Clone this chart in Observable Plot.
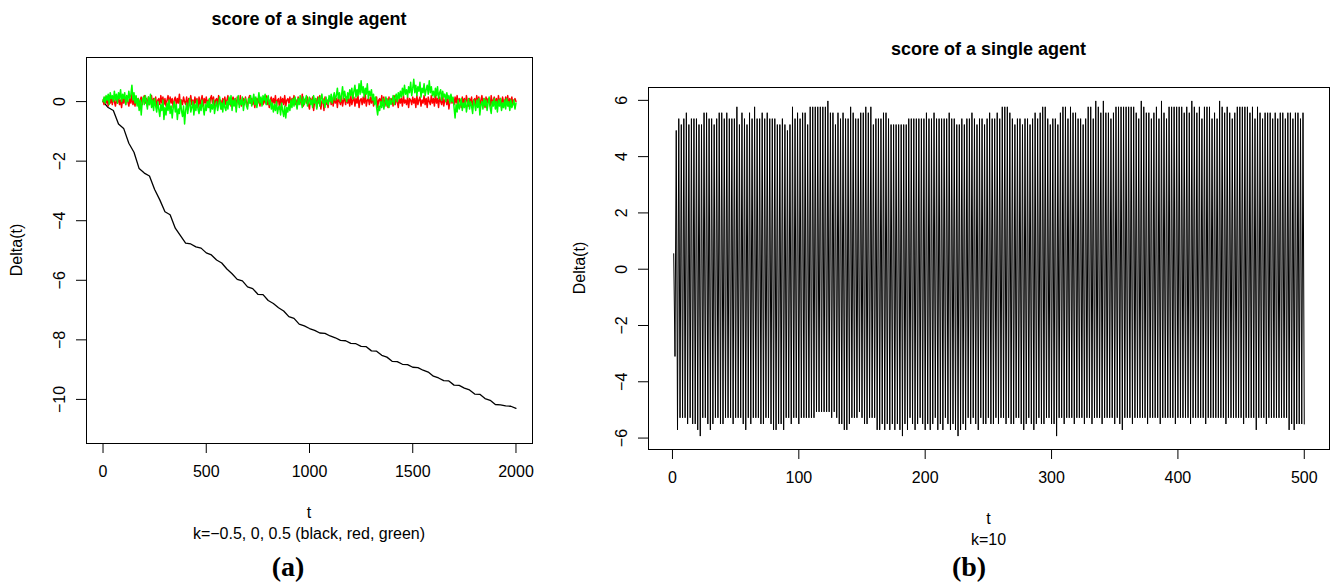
<!DOCTYPE html>
<html><head><meta charset="utf-8">
<script src="https://cdn.jsdelivr.net/npm/d3@7"></script>
<script src="https://cdn.jsdelivr.net/npm/@observablehq/plot@0.6"></script>
<style>
html,body{margin:0;padding:0;background:#fff;}
#root{position:relative;width:1334px;height:586px;overflow:hidden;background:#fff;}
.panel{position:absolute;top:0;}
#overlay{position:absolute;left:0;top:0;}
</style></head><body>
<div id="root"><div id="pa" class="panel" style="left:0px"></div><div id="pb" class="panel" style="left:560px"></div><svg id="overlay" width="1334" height="586"></svg></div>
<script>
// ---------- Panel (a): k = -0.5 (black), 0 (red), 0.5 (green) ----------
const stepBlack = 25;   // t spacing of blackK values
const stepRG = 5;       // t spacing of redK / greenK values
const blackK = [0,-0.2,-0.3,-0.75,-0.9,-1.4,-1.7,-2.25,-2.4,-2.5,
 -2.95,-3.3,-3.7,-3.8,-4.25,-4.5,-4.75,-4.78,-4.88,-4.92,
 -5.08,-5.15,-5.32,-5.42,-5.62,-5.78,-5.97,-6.02,-6.22,-6.28,
 -6.47,-6.48,-6.68,-6.78,-6.92,-7.03,-7.22,-7.28,-7.47,-7.53,
 -7.62,-7.68,-7.77,-7.78,-7.87,-7.93,-8.02,-8.03,-8.12,-8.13,
 -8.22,-8.23,-8.37,-8.38,-8.52,-8.58,-8.72,-8.73,-8.82,-8.83,
 -8.92,-8.93,-9.02,-9.08,-9.22,-9.28,-9.37,-9.38,-9.52,-9.53,
 -9.62,-9.68,-9.82,-9.83,-9.97,-10.03,-10.17,-10.18,-10.22,-10.23,
 -10.3];
const redK = [0.05,-0.1,0.15,-0.05,0.1,-0.15,0.2,-0.05,0.1,-0.1,0.15,0.0,-0.15,0.1,-0.05,0.2,-0.1,0.05,-0.2,0.1,
 -0.05,0.15,-0.1,0.2,0.0,-0.15,0.1,-0.05,0.25,-0.1,0.05,-0.15,0.15,-0.05,0.1,-0.2,0.05,0.15,-0.1,0.1,
 0.2,-0.05,0.1,-0.15,0.15,-0.1,0.05,0.2,-0.15,0.1,-0.05,0.15,-0.2,0.05,0.1,-0.1,0.2,-0.05,0.15,-0.1,
 0.1,-0.15,0.05,0.2,-0.1,0.15,-0.05,0.1,-0.2,0.05,0.15,-0.1,0.1,-0.05,0.25,-0.15,0.05,-0.1,0.15,0.0,
 -0.1,0.15,-0.2,0.1,0.0,0.2,-0.1,0.05,-0.15,0.15,-0.05,0.1,-0.2,0.15,-0.1,0.05,0.2,-0.15,0.1,-0.05,
 0.15,-0.1,0.05,-0.2,0.1,0.2,-0.05,0.15,-0.15,0.05,0.1,-0.1,0.2,-0.05,0.05,-0.25,0.1,-0.05,0.15,-0.1,
 0.05,0.2,-0.1,0.1,-0.15,0.05,0.15,-0.05,0.1,-0.2,0.15,0.0,-0.1,0.2,-0.15,0.05,0.1,-0.1,0.15,-0.05,
 -0.15,0.1,0.2,-0.05,0.1,-0.1,0.15,-0.2,0.05,0.1,-0.05,0.2,-0.15,0.1,0.0,-0.1,0.15,-0.05,0.2,-0.1,
 0.1,-0.2,0.05,0.15,-0.1,0.1,-0.05,0.2,-0.15,0.05,0.1,-0.25,0.15,-0.05,0.1,-0.1,0.2,-0.15,0.05,0.1,
 -0.05,0.15,-0.15,0.1,0.0,0.2,-0.1,0.05,-0.2,0.15,-0.05,0.1,-0.1,0.25,-0.15,0.05,0.1,-0.05,0.15,-0.1,
 -0.25,0.1,-0.05,0.15,-0.3,0.05,0.1,-0.2,0.15,-0.05,0.2,-0.25,0.0,0.1,-0.3,0.15,-0.1,0.05,-0.2,0.1,
 0.15,-0.1,0.05,-0.15,0.2,-0.05,0.1,-0.2,0.15,0.0,-0.1,0.2,-0.15,0.05,0.1,-0.1,0.15,-0.05,0.1,-0.15,
 0.2,-0.1,0.05,0.15,-0.15,0.1,-0.05,0.2,-0.2,0.05,0.1,-0.1,0.15,-0.05,0.25,-0.15,0.05,0.1,-0.1,0.15,
 -0.05,0.2,-0.15,0.1,-0.05,0.15,-0.2,0.05,0.1,-0.1,0.2,-0.05,0.15,-0.15,0.05,0.1,-0.2,0.15,-0.05,0.1,
 0.05,-0.15,0.2,-0.1,0.1,0.0,-0.2,0.15,-0.05,0.1,-0.15,0.2,-0.05,0.05,-0.1,0.15,-0.2,0.1,0.05,-0.1,
 0.15,-0.05,0.1,-0.2,0.2,-0.1,0.05,0.15,-0.15,0.05,-0.05,0.2,-0.1,0.1,-0.2,0.15,0.0,-0.1,0.2,-0.05,
 0.1,-0.15,0.25,-0.05,0.1,-0.2,0.15,0.0,-0.1,0.2,-0.15,0.05,0.1,-0.1,0.15,-0.25,0.05,0.2,-0.05,0.1,
 -0.1,0.15,-0.05,0.2,-0.15,0.1,0.05,-0.2,0.15,-0.05,0.1,-0.1,0.2,0.0,-0.15,0.1,-0.05,0.15,-0.2,0.05,
 0.1,-0.1,0.2,-0.05,0.15,-0.15,0.05,0.2,-0.1,0.1,-0.2,0.15,-0.05,0.1,0.0,-0.15,0.2,-0.1,0.05,0.15,
 -0.1,0.1,-0.15,0.2,-0.05,0.1,-0.2,0.15,0.0,-0.1,0.15,-0.05,0.2,-0.15,0.1,-0.05,0.15,-0.1,0.05,0.1,
 0.0];
const greenK = [0.0,0.15,-0.05,0.2,0.05,0.25,-0.1,0.3,0.1,0.2,0.0,0.35,0.05,0.25,-0.05,0.3,0.1,0.4,0.0,0.25,
 0.1,0.3,-0.1,0.2,0.0,0.35,0.1,0.25,0.55,0.05,0.3,-0.05,0.2,-0.15,0.1,-0.3,0.05,-0.45,0.0,0.15,
 -0.1,0.2,0.0,-0.25,0.15,-0.1,0.25,-0.2,0.05,-0.3,0.1,-0.15,-0.35,0.0,-0.25,-0.5,-0.1,-0.3,0.05,-0.6,
 -0.2,-0.45,-0.05,-0.3,0.05,-0.4,-0.15,-0.55,-0.2,0.0,-0.35,-0.1,-0.6,-0.25,-0.4,0.05,-0.3,-0.5,-0.15,-0.75,
 -0.3,-0.05,-0.4,-0.15,0.1,-0.35,-0.2,0.0,-0.45,-0.1,-0.3,0.05,-0.25,-0.4,-0.1,-0.3,0.05,-0.2,-0.45,-0.1,
 -0.3,0.0,-0.2,0.1,-0.35,-0.1,-0.25,0.05,-0.4,-0.15,0.0,-0.3,-0.1,0.15,-0.25,-0.05,-0.35,0.05,-0.2,-0.3,
 0.0,-0.25,0.15,-0.1,0.2,-0.3,0.05,-0.15,0.1,-0.35,0.0,0.2,-0.2,0.05,-0.1,0.15,-0.3,0.0,0.1,-0.15,
 -0.25,0.1,-0.05,0.2,-0.15,0.05,0.25,-0.1,0.15,-0.2,0.0,0.3,-0.05,0.15,-0.15,0.2,0.05,0.25,-0.1,0.1,
 0.2,-0.1,0.05,-0.25,-0.05,-0.35,-0.1,-0.3,0.0,-0.4,-0.2,-0.15,-0.45,-0.05,-0.3,-0.5,-0.15,-0.55,-0.2,-0.35,
 -0.1,-0.3,0.05,-0.2,0.1,-0.15,0.15,-0.05,-0.25,0.1,-0.1,0.2,0.0,-0.2,0.15,-0.1,0.05,0.2,-0.15,0.0,
 0.15,-0.1,0.05,-0.2,0.2,-0.05,0.1,-0.25,0.0,0.15,-0.15,0.1,0.25,-0.05,0.05,-0.2,0.15,0.0,-0.1,0.2,
 0.0,0.25,-0.05,0.15,0.3,0.05,0.2,0.45,0.1,0.3,0.0,0.2,0.5,0.1,0.35,0.15,0.0,0.3,0.1,0.4,
 0.2,0.45,0.1,0.35,0.55,0.15,0.4,0.2,0.6,0.25,0.7,0.3,0.5,0.15,0.45,0.25,0.6,0.1,0.35,0.2,
 0.4,0.05,0.25,-0.1,0.15,-0.2,-0.45,-0.15,-0.3,0.0,-0.2,0.1,-0.25,-0.05,0.15,-0.15,0.05,-0.2,0.1,-0.1,
 0.0,0.2,-0.1,0.15,0.25,0.0,0.3,0.1,0.35,0.15,0.45,0.2,0.55,0.25,0.4,0.15,0.5,0.3,0.65,0.2,
 0.45,0.75,0.3,0.55,0.2,0.5,0.35,0.65,0.15,0.45,0.3,0.6,0.2,0.4,0.55,0.25,0.7,0.3,0.5,0.2,
 0.35,0.15,0.45,0.2,0.5,0.1,0.3,0.4,0.05,0.35,0.15,0.25,0.0,0.3,0.1,0.2,-0.05,0.25,0.0,0.15,
 -0.2,-0.55,-0.1,-0.35,0.05,-0.25,-0.1,0.1,-0.3,-0.05,-0.2,0.05,-0.35,-0.1,0.1,-0.25,0.0,-0.15,-0.4,0.05,
 -0.1,-0.3,0.05,-0.2,0.1,-0.45,-0.1,0.0,-0.25,0.1,-0.15,0.05,-0.3,-0.05,0.15,-0.2,-0.4,0.0,-0.15,0.1,
 -0.25,0.0,-0.35,0.05,-0.15,0.1,-0.3,-0.05,-0.2,0.05,-0.25,0.1,-0.15,0.0,-0.3,0.05,-0.2,-0.1,0.05,-0.25,
 -0.05];
const xLimA = [0, 2000];
const yLimA = [-11, 1];
const xTicksA = [0, 500, 1000, 1500, 2000];
const yTicksA = [0, -2, -4, -6, -8, -10];

// ---------- Panel (b): k = 10 ----------
const startB = [0.55, -3.1];   // t = 1, 2
const peaksB = [4.93,5.35,5.14,5.35,5.56,5.14,5.35,5.35,5.35,5.14,
 5.14,5.56,5.56,5.35,5.35,5.14,5.35,5.56,5.56,5.35,
 5.56,5.35,5.35,5.35,5.77,5.14,5.56,5.35,5.14,5.56,
 5.35,5.77,5.35,5.35,5.56,5.35,5.56,5.35,5.35,5.35,
 5.14,5.14,5.35,5.14,4.93,5.14,5.77,5.35,5.56,5.35,
 5.56,5.56,5.14,5.77,5.77,5.77,5.77,5.77,5.77,5.77,
 5.98,5.56,5.56,5.14,5.56,5.35,5.56,5.35,5.35,5.77,
 5.56,5.35,5.35,5.56,5.56,5.77,5.56,5.77,5.14,5.35,
 5.35,5.35,5.56,5.56,5.35,5.14,5.14,5.14,5.14,5.14,
 5.14,5.14,5.35,5.35,5.35,5.35,5.35,5.35,5.35,5.56,
 5.35,5.35,5.56,5.35,5.35,5.35,5.35,5.35,5.56,5.35,
 5.35,5.14,5.14,5.35,5.14,5.35,5.35,5.56,5.35,5.14,
 5.35,5.35,5.14,5.35,5.56,5.35,5.35,5.56,5.35,5.77,
 5.77,5.77,5.56,5.35,5.14,5.35,5.35,5.14,5.35,5.35,
 5.14,5.35,5.56,5.35,5.56,5.77,5.77,5.35,5.14,5.35,
 5.35,5.14,5.56,5.77,5.77,5.35,5.77,5.56,5.56,5.35,
 5.35,5.14,5.35,5.77,5.77,5.35,5.98,5.77,5.56,5.98,
 5.56,5.56,5.35,5.56,5.77,5.77,5.77,5.77,5.77,5.77,
 5.77,5.77,5.56,5.35,5.98,5.77,5.56,5.56,5.35,5.56,
 5.77,5.35,5.98,5.56,5.35,5.77,5.77,5.77,5.77,5.77,
 5.77,5.56,5.77,5.56,5.98,5.77,5.56,5.77,5.35,5.77,
 5.77,5.77,5.35,5.56,5.35,5.98,5.77,5.56,5.77,5.56,
 5.35,5.56,5.77,5.77,5.77,5.77,5.77,5.56,5.77,5.35,
 5.77,5.56,5.35,5.56,5.56,5.56,5.35,5.56,5.35,5.56,
 5.56,5.35,5.56,5.56,5.35,5.56,5.56,5.35,5.56];
const troughsB = [-5.71,-5.28,-5.28,-5.28,-5.5,-5.28,-5.5,-5.5,-5.71,-5.93,
 -5.28,-5.28,-5.5,-5.71,-5.5,-5.28,-5.28,-5.5,-5.5,-5.28,
 -5.28,-5.28,-5.5,-5.28,-5.28,-5.28,-5.5,-5.71,-5.28,-5.5,
 -5.28,-5.28,-5.28,-5.5,-5.5,-5.28,-5.28,-5.5,-5.71,-5.71,
 -5.5,-5.5,-5.71,-5.28,-5.28,-5.5,-5.28,-5.28,-5.5,-5.28,
 -5.28,-5.28,-5.28,-5.28,-5.28,-5.07,-5.07,-5.07,-5.07,-5.07,
 -5.07,-5.28,-5.07,-5.28,-5.5,-5.5,-5.71,-5.71,-5.5,-5.28,
 -5.28,-5.28,-5.07,-5.28,-5.5,-5.5,-5.28,-5.28,-5.28,-5.71,
 -5.71,-5.5,-5.71,-5.5,-5.71,-5.5,-5.71,-5.5,-5.71,-5.93,
 -5.5,-5.71,-5.28,-5.5,-5.71,-5.5,-5.28,-5.5,-5.71,-5.5,
 -5.71,-5.5,-5.28,-5.71,-5.5,-5.71,-5.28,-5.5,-5.71,-5.5,
 -5.71,-5.93,-5.71,-5.5,-5.71,-5.28,-5.5,-5.28,-5.5,-5.71,
 -5.28,-5.5,-5.5,-5.28,-5.5,
 -5.5,-5.28,-5.5,-5.28,-5.28,-5.5,-5.28,-5.5,-5.5,-5.28,
 -5.28,-5.5,-5.71,-5.5,-5.28,-5.5,-5.71,-5.5,-5.28,-5.5,
 -5.5,-5.28,-5.28,-5.5,-5.5,-5.93,-5.28,-5.28,-5.5,-5.28,
 -5.28,-5.28,-5.5,-5.28,-5.28,-5.28,-5.5,-5.28,-5.28,-5.5,
 -5.28,-5.28,-5.28,-5.5,-5.28,-5.28,-5.28,-5.28,-5.5,-5.28,
 -5.5,-5.71,-5.28,-5.28,-5.28,-5.5,-5.28,-5.28,-5.28,-5.28,
 -5.28,-5.5,-5.28,-5.28,-5.28,-5.28,-5.5,-5.28,-5.28,-5.28,
 -5.28,-5.28,-5.5,-5.28,-5.28,-5.28,-5.28,-5.28,-5.5,-5.28,
 -5.28,-5.28,-5.28,-5.28,-5.5,-5.28,-5.28,-5.28,-5.28,-5.28,
 -5.28,-5.28,-5.5,-5.28,-5.28,-5.28,-5.28,-5.28,-5.28,-5.5,
 -5.28,-5.28,-5.28,-5.28,-5.71,-5.28,-5.28,-5.28,-5.5,-5.28,
 -5.28,-5.28,-5.28,-5.28,-5.28,-5.28,-5.28,-5.71,-5.5,-5.71,
 -5.5,-5.5,-5.5,-5.5];
const xTicksB = [0, 100, 200, 300, 400, 500];
const yTicksB = [-6, -4, -2, 0, 2, 4, 6];

// ---------- build tables ----------
const series = (arr, step) => arr.map((v, i) => ({t: i * step, v}));
const blackData = series(blackK, stepBlack);
const redData = series(redK, stepRG);
const greenData = series(greenK, stepRG);
const valsB = [...startB];
for (let i = 0; i < Math.max(peaksB.length, troughsB.length); i++) {
  if (i < peaksB.length) valsB.push(peaksB[i]);
  if (i < troughsB.length) valsB.push(troughsB[i]);
}
const dataB = valsB.map((v, i) => ({t: i + 1, v}));

const rExpand = ([a, b]) => { const d = (b - a) * 0.04; return [a - d, b + d]; };
const fmt = d => d < 0 ? "\u2212" + Math.abs(d) : String(d);
const FONT = '"Liberation Sans", Arial, Helvetica, sans-serif';
const style = {fontSize: "16px", fontFamily: FONT, color: "black", background: "transparent", overflow: "visible"};

const plotA = Plot.plot({
  width: 560, height: 500,
  marginTop: 57, marginBottom: 57, marginLeft: 86, marginRight: 28,
  style,
  x: {domain: rExpand(xLimA)},
  y: {domain: rExpand(yLimA)},
  marks: [
    Plot.line(blackData, {x: "t", y: "v", stroke: "black", strokeWidth: 1.3}),
    Plot.line(redData, {x: "t", y: "v", stroke: "#ff0000", strokeWidth: 1.5}),
    Plot.line(greenData, {x: "t", y: "v", stroke: "#00ff00", strokeWidth: 1.5}),
    Plot.frame({stroke: "black", strokeWidth: 1}),
    Plot.axisX(xTicksA, {tickSize: 10, tickPadding: 12, label: null, tickFormat: fmt}),
    Plot.axisY(yTicksA, {tickSize: 10, tickPadding: 12, tickRotate: -90, label: null, tickFormat: fmt})
  ]
});
document.getElementById("pa").appendChild(plotA);

const plotB = Plot.plot({
  width: 774, height: 500,
  marginTop: 87, marginBottom: 51, marginLeft: 88, marginRight: 5,
  style,
  x: {domain: rExpand([1, dataB.length])},
  y: {domain: rExpand(d3.extent(valsB))},
  marks: [
    Plot.line(dataB, {x: "t", y: "v", stroke: "black", strokeWidth: 1}),
    Plot.frame({stroke: "black", strokeWidth: 1}),
    Plot.axisX(xTicksB, {tickSize: 10, tickPadding: 12, label: null, tickFormat: fmt}),
    Plot.axisY(yTicksB, {tickSize: 10, tickPadding: 12, tickRotate: -90, label: null, tickFormat: fmt})
  ]
});
document.getElementById("pb").appendChild(plotB);

// ---------- titles, axis labels, captions ----------
const ov = d3.select("#overlay").style("font-family", FONT);
function txt(s, x, y, opts = {}) {
  const t = ov.append("text").attr("x", x).attr("y", y).attr("text-anchor", "middle")
    .attr("font-size", opts.size || 16).attr("fill", "black").text(s);
  if (opts.bold) t.attr("font-weight", "bold");
  if (opts.family) t.attr("font-family", opts.family);
  if (opts.rotate) t.attr("transform", `rotate(${opts.rotate},${x},${y})`);
  return t;
}
txt("score of a single agent", 309, 25, {size: 18, bold: true});
txt("score of a single agent", 988.5, 55, {size: 18, bold: true});
txt("t", 309, 518);
txt("k=\u22120.5, 0, 0.5 (black, red, green)", 309, 539);
txt("t", 988.5, 524);
txt("k=10", 988.5, 545);
txt("Delta(t)", 22, 250, {rotate: -90});
txt("Delta(t)", 585, 268, {rotate: -90});
txt("(a)", 288, 576, {size: 28, bold: true, family: '"Liberation Serif", "DejaVu Serif", serif'});
txt("(b)", 969, 576, {size: 28, bold: true, family: '"Liberation Serif", "DejaVu Serif", serif'});
</script>
</body></html>
